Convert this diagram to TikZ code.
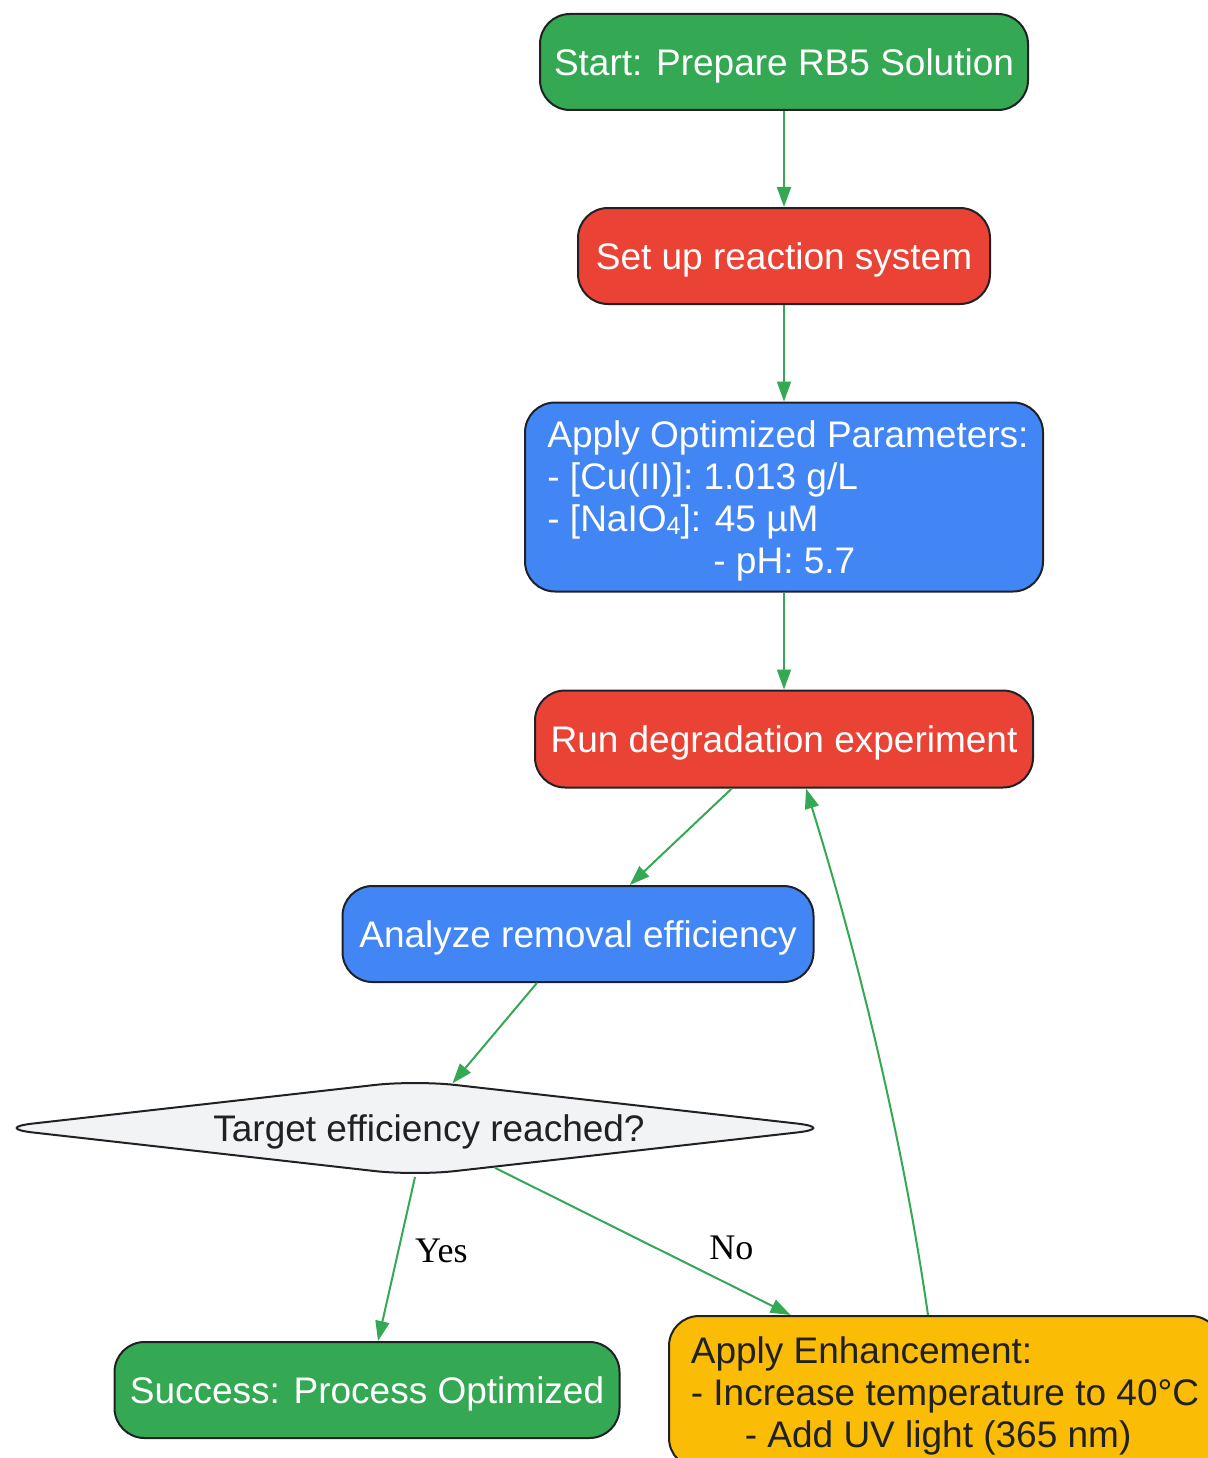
\documentclass[tikz,border=0pt]{standalone}
\usepackage{fontspec}
\setmainfont{Liberation Sans}
\newfontfamily\edgefont{Liberation Serif}
\usetikzlibrary{shapes.geometric,arrows.meta}
\definecolor{flowgreen}{HTML}{34A853}
\definecolor{flowred}{HTML}{EA4335}
\definecolor{flowblue}{HTML}{4285F4}
\definecolor{flowyellow}{HTML}{FBBC05}
\definecolor{flowgrey}{HTML}{F1F3F4}
\definecolor{flowdark}{HTML}{202124}
\newcommand{\subdigit}[1]{\raisebox{-3pt}{\fontsize{25}{25}\selectfont #1}}
\begin{document}
\begin{tikzpicture}[x=1pt,y=-1pt,
  box/.style={draw=flowdark, line width=2pt, rounded corners=30pt, inner sep=0pt, text depth=0pt, align=left, font=\fontsize{37}{42}\selectfont},
  decision/.style={shape=diamond, draw=flowdark, fill=flowgrey, text=flowdark, line width=2pt, rounded corners=40pt, inner sep=0pt, text depth=0pt, aspect=8.67, font=\fontsize{37}{42}\selectfont},
  flow/.style={draw=flowgreen, line width=2pt, -{Triangle[length=20pt,width=14pt]}},
  branch/.style={font=\edgefont\fontsize{36}{40}\selectfont, text=black}]
\useasboundingbox (0,0) rectangle (1207,1458);
\node[box, fill=flowgreen, text=white, minimum width=488pt, minimum height=96pt] (start) at (784,62) {Start: Prepare RB5 Solution};
\node[box, fill=flowred, text=white, minimum width=412pt, minimum height=96pt] (setup) at (784,256) {Set up reaction system};
\node[box, fill=flowblue, text=white, minimum width=518pt, minimum height=189pt] (params) at (784,497) {\hspace*{8pt}Apply Optimized Parameters:\\\hspace*{8pt}- [Cu(II)]: 1.013 g/L\\\hspace*{8pt}- [NaIO\subdigit{4}]: 45 µM\\\hspace*{174pt}- pH: 5.7};
\node[box, fill=flowred, text=white, minimum width=498pt, minimum height=97pt] (run) at (784,739) {Run degradation experiment};
\node[box, fill=flowblue, text=white, minimum width=471pt, minimum height=96pt] (analyze) at (578,934) {Analyze removal efficiency};
\node[decision, minimum width=844pt, minimum height=96pt] (target) at (415,1128) {\hspace*{28pt}Target efficiency reached?};
\node[box, fill=flowgreen, text=white, minimum width=505pt, minimum height=96pt] (success) at (367,1390) {Success: Process Optimized};
\node[box, fill=flowyellow, text=flowdark, minimum width=552pt, minimum height=152pt] (enhance) at (945,1392) {Apply Enhancement:\\- Increase temperature to 40°C\\\hspace*{54pt}- Add UV light (365 nm)};
\draw[flow] (start) -- (setup);
\draw[flow] (setup) -- (params);
\draw[flow] (params) -- (run);
\draw[flow] (run) -- (analyze);
\draw[flow] (analyze) -- (target);
\draw[flow] (target.south) -- (success) node[branch, pos=0.45, xshift=43pt] {Yes};
\draw[flow] (target) -- (enhance) node[branch, pos=0.8, yshift=38pt] {No};
\draw[flow] ([xshift=-17pt]enhance.north) .. controls (900,1120) and (850,930) .. ([xshift=22pt]run.south);
\end{tikzpicture}
\end{document}
